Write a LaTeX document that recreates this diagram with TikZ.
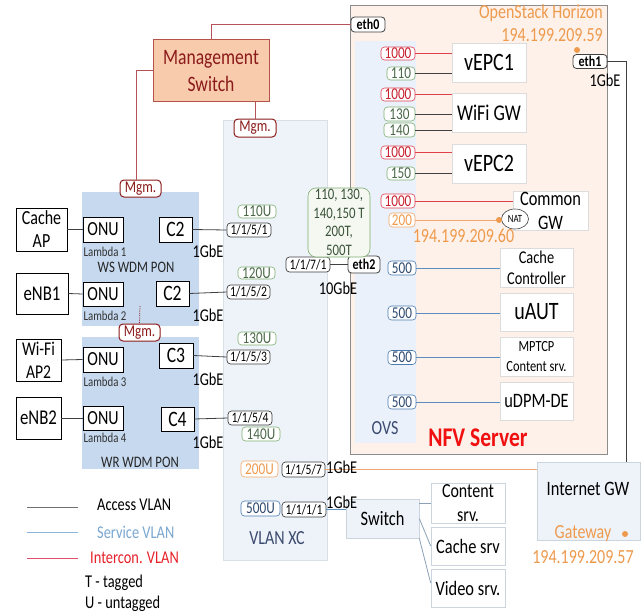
\documentclass[tikz,border=0pt]{standalone}
\usepackage{fontspec}
\setmainfont[FakeStretch=0.8]{Carlito}
\usetikzlibrary{shapes.geometric}
\definecolor{mred}{HTML}{8B1A1A}
\definecolor{mgfill}{HTML}{F8CBAD}
\definecolor{mgbord}{HTML}{B5524A}
\definecolor{mgline}{HTML}{B5525A}
\definecolor{nfvf}{HTML}{FDF1EA}
\definecolor{nfvb}{HTML}{8C8C8C}
\definecolor{ovsf}{HTML}{EAF1FA}
\definecolor{vxcf}{HTML}{EEF3F9}
\definecolor{vxcb}{HTML}{D8DFE8}
\definecolor{ponf}{HTML}{C6D9EF}
\definecolor{portc}{HTML}{404040}
\definecolor{greenb}{HTML}{7FAE72}
\definecolor{greent}{HTML}{4A6848}
\definecolor{redb}{HTML}{E0404E}
\definecolor{redt}{HTML}{C8202E}
\definecolor{orangeb}{HTML}{F2A868}
\definecolor{oranget}{HTML}{EE9A4D}
\definecolor{blueb}{HTML}{4A7BB0}
\definecolor{bluet}{HTML}{2E4A70}
\definecolor{accc}{HTML}{404040}
\definecolor{srvc}{HTML}{5B8DC0}
\definecolor{icnc}{HTML}{E0404A}
\definecolor{orline}{HTML}{F0A870}
\definecolor{vnfb}{HTML}{DCDCDC}
\definecolor{navy}{HTML}{3B4A6E}
\definecolor{legblue}{HTML}{7BA7D0}
\definecolor{legred}{HTML}{E8202A}
\definecolor{leggrey}{HTML}{707070}
\definecolor{legbl}{HTML}{8AB4DC}
\definecolor{legrl}{HTML}{E0506A}
\definecolor{nfvred}{HTML}{F01010}
\definecolor{swline}{HTML}{8CA0B8}
\definecolor{gwf}{HTML}{EEF3FA}
\definecolor{gwb}{HTML}{CCD4DE}
\definecolor{tagf}{HTML}{F4F8F0}
\newcommand\fz[2]{\fontsize{#1}{#2}\selectfont}
\tikzset{
  box/.style={draw=black, line width=0.7pt, fill=white, inner sep=0pt, align=center},
  portb/.style={draw=portc, line width=0.7pt, rounded corners=3.5pt, fill=white, inner sep=0pt, font=\fz{14.5}{15}},
  vg/.style={draw=greenb, line width=0.6pt, rounded corners=3.5pt, fill=white, inner sep=0pt, text=greent, font=\fz{16.5}{17}},
  vr/.style={vg, draw=redb, text=redt},
  vo/.style={vg, draw=orangeb, text=oranget},
  vb/.style={vg, draw=blueb, text=bluet},
  mgm/.style={draw=mred, line width=1pt, rounded corners=4pt, fill=white, text=mred, font=\fz{16.5}{17}, inner sep=0pt},
  vnf/.style={draw=vnfb, line width=0.6pt, fill=white, inner sep=0pt, align=center},
  lbl/.style={inner sep=0pt},
  eth/.style={draw=portc, line width=0.8pt, rounded corners=3.5pt, fill=white, inner sep=0pt, font=\bfseries\fz{15}{15}},
  acc/.style={draw=accc, line width=0.8pt},
  srv/.style={draw=srvc, line width=0.8pt},
  icn/.style={draw=icnc, line width=0.8pt},
  mg/.style={draw=mgline, line width=1pt},
  orl/.style={draw=orline, line width=0.8pt},
  swl/.style={draw=swline, line width=0.8pt},
  odot/.style={circle, fill=oranget, inner sep=0pt, minimum size=6pt},
  lgbox/.style={draw=gwb, line width=0.6pt, fill=gwf, inner sep=0pt, align=center},
  sbox/.style={draw=gwb, line width=0.6pt, fill=white, inner sep=0pt, align=center}
}
\begin{document}
\begin{tikzpicture}[x=1pt,y=-1pt]
\useasboundingbox[fill=white] (0,0) rectangle (644,615);

% ---- regions
\node[draw=nfvb, fill=nfvf, line width=0.8pt, minimum width=257pt, minimum height=449pt, inner sep=0pt] (nfv) at (478.5,229.5) {};
\node[fill=ovsf, minimum width=61pt, minimum height=402pt, inner sep=0pt] (ovs) at (385.5,242) {};
\node[draw=vxcb, fill=vxcf, line width=0.6pt, minimum width=104pt, minimum height=440pt, inner sep=0pt] (vxc) at (275,340) {};
\node[fill=ponf, minimum width=117pt, minimum height=134pt, inner sep=0pt] (ws) at (140.5,259) {};
\node[fill=ponf, minimum width=117pt, minimum height=132pt, inner sep=0pt] (wr) at (140.5,403) {};

% ---- region labels
\node[lbl, text=nfvred, font=\bfseries\fz{27}{27}] (nfvlbl) at (478,438) {NFV Server};
\node[lbl, text=navy, font=\fz{20}{20}] (ovslbl) at (385,428) {OVS};
\node[lbl, text=navy, font=\fz{20}{20}] (vxclbl) at (277,538) {VLAN XC};
\node[lbl, text=black!85, font=\fz{16}{16}] (wslbl) at (136,267) {WS WDM PON};
\node[lbl, text=black!85, font=\fz{16}{16}] (wrlbl) at (140,462) {WR WDM PON};
\node[lbl, text=oranget, font=\fz{20}{20}, anchor=east] (oshz) at (603,13) {OpenStack Horizon};
\node[lbl, text=oranget, font=\fz{20}{20}, anchor=east] (osip) at (603,35) {194.199.209.59};
\node[lbl, text=oranget, font=\fz{20}{20}] (natip) at (463.5,236) {194.199.209.60};

% ---- management
\node[draw=mgbord, fill=mgfill, line width=1pt, minimum width=116pt, minimum height=62pt, inner sep=0pt, align=center, text=mred, font=\fz{22}{27}] (mgmt) at (211,71) {Management\\Switch};
\node[mgm, minimum width=41pt, minimum height=17pt] (mgmL) at (140.5,188.5) {Mgm.};
\node[mgm, minimum width=42pt, minimum height=18pt] (mgmX) at (255,128) {Mgm.};
\node[mgm, minimum width=41pt, minimum height=17pt] (mgmM) at (139.5,332.5) {Mgm.};
\coordinate (dtop) at (140,306);

% ---- eth ports
\node[eth, minimum width=34pt, minimum height=15pt] (eth0) at (368,24.5) {eth0};
\node[eth, minimum width=34pt, minimum height=14pt] (eth1) at (590,61.5) {eth1};
\node[eth, minimum width=32pt, minimum height=17pt] (eth2) at (364,264.5) {eth2};
\node[odot] (d1) at (577,50) {};
\node[lbl, font=\fz{18}{18}] (g1e) at (605,80) {1GbE};

% ---- access devices
\node[box, minimum width=51pt, minimum height=43pt, font=\fz{20}{23}] (cap) at (41.5,229.5) {Cache\\AP};
\node[box, minimum width=52pt, minimum height=41pt, font=\fz{21}{23}] (enb1) at (42,293.5) {eNB1};
\node[box, minimum width=45pt, minimum height=42pt, font=\fz{19.5}{23}] (wap) at (38.5,360) {Wi-Fi\\AP2};
\node[box, minimum width=45pt, minimum height=42pt, font=\fz{21}{23}] (enb2) at (38.5,418) {eNB2};

\node[box, minimum width=40pt, minimum height=25pt, font=\fz{20}{20}] (onu1) at (103,229.5) {ONU};
\node[box, minimum width=40pt, minimum height=24pt, font=\fz{20}{20}] (onu2) at (103,294) {ONU};
\node[box, minimum width=40pt, minimum height=25pt, font=\fz{20}{20}] (onu3) at (103,359.5) {ONU};
\node[box, minimum width=40pt, minimum height=24pt, font=\fz{20}{20}] (onu4) at (103,418) {ONU};
\node[lbl, font=\fz{13.5}{14}, text=black!80] (lam1) at (105,252) {Lambda 1};
\node[lbl, font=\fz{13.5}{14}, text=black!80] (lam2) at (105,316) {Lambda 2};
\node[lbl, font=\fz{13.5}{14}, text=black!80] (lam3) at (105,382) {Lambda 3};
\node[lbl, font=\fz{13.5}{14}, text=black!80] (lam4) at (105,438) {Lambda 4};

\node[box, minimum width=33pt, minimum height=25pt, font=\fz{22}{22}] (c2a) at (175.5,229.5) {C2};
\node[box, minimum width=33pt, minimum height=25pt, font=\fz{22}{22}] (c2b) at (172.5,293.5) {C2};
\node[box, minimum width=34pt, minimum height=25pt, font=\fz{22}{22}] (c3) at (176,355.5) {C3};
\node[box, minimum width=33pt, minimum height=24pt, font=\fz{22}{22}] (c4) at (177.5,419) {C4};
\node[lbl, font=\fz{18}{18}] (ge1) at (208,251) {1GbE};
\node[lbl, font=\fz{18}{18}] (ge2) at (208,315) {1GbE};
\node[lbl, font=\fz{18}{18}] (ge3) at (208,379) {1GbE};
\node[lbl, font=\fz{18}{18}] (ge4) at (208,442) {1GbE};

% ---- VLAN XC ports
\node[portb, minimum width=44pt, minimum height=14pt] (p1) at (249,230) {1/1/5/1};
\node[portb, minimum width=43pt, minimum height=14pt] (p2) at (248.5,292) {1/1/5/2};
\node[portb, minimum width=43pt, minimum height=14pt] (p3) at (248.5,357) {1/1/5/3};
\node[portb, minimum width=44pt, minimum height=14pt] (p4) at (250,418) {1/1/5/4};
\node[portb, minimum width=43pt, minimum height=15pt] (p7) at (303.5,469.5) {1/1/5/7};
\node[portb, minimum width=44pt, minimum height=15pt] (p11) at (304,509.5) {1/1/1/1};
\node[portb, minimum width=44pt, minimum height=15pt] (p71) at (308,264.5) {1/1/7/1};

\node[vg, minimum width=38pt, minimum height=13pt] (v110) at (257,211.5) {110U};
\node[vg, minimum width=37pt, minimum height=12pt] (v120) at (256.5,273) {120U};
\node[vg, minimum width=38pt, minimum height=13pt] (v130) at (257,338.5) {130U};
\node[vg, minimum width=38pt, minimum height=14pt] (v140) at (261,434) {140U};
\node[vo, minimum width=37pt, minimum height=16pt] (v200) at (259.5,469) {200U};
\node[vb, minimum width=39pt, minimum height=15pt] (v500) at (260.5,508.5) {500U};

\node[draw=greenb, line width=0.6pt, rounded corners=8pt, fill=tagf, inner sep=0pt, minimum width=62pt, minimum height=69pt, align=center, text=greent!80!black, font=\fz{16}{18.5}] (tag) at (339,222.5) {110, 130,\\140,150 T\\200T,\\500T};
\node[lbl, font=\fz{18}{18}] (ge10) at (338,288) {10GbE};

% ---- OVS ports
\node[vr, minimum width=34pt, minimum height=13pt] (r1) at (398,53.5) {1000};
\node[vg, minimum width=28pt, minimum height=13pt] (g110) at (401,73.5) {110};
\node[vr, minimum width=34pt, minimum height=13pt] (r2) at (398,94.5) {1000};
\node[vg, minimum width=31pt, minimum height=14pt] (g130) at (399.5,114) {130};
\node[vg, minimum width=31pt, minimum height=14pt] (g140) at (399.5,130) {140};
\node[vr, minimum width=34pt, minimum height=13pt] (r3) at (398,152.5) {1000};
\node[vg, minimum width=28pt, minimum height=13pt] (g150) at (401,173.5) {150};
\node[vr, minimum width=34pt, minimum height=14pt] (r4) at (398,201) {1000};
\node[vo, minimum width=26pt, minimum height=14pt] (o200) at (402,220) {200};
\node[vb, minimum width=28pt, minimum height=14pt] (b1) at (402,268) {500};
\node[vb, minimum width=28pt, minimum height=14pt] (b2) at (402,313) {500};
\node[vb, minimum width=28pt, minimum height=14pt] (b3) at (402,357.5) {500};
\node[vb, minimum width=28pt, minimum height=14pt] (b4) at (402,402) {500};

% ---- VNFs
\node[vnf, minimum width=74pt, minimum height=39pt, font=\fz{25}{25}] (vepc1) at (489,62.5) {vEPC1};
\node[vnf, minimum width=74pt, minimum height=39pt, font=\fz{22.5}{22.5}] (wifigw) at (489,112.5) {WiFi GW};
\node[vnf, minimum width=74pt, minimum height=39pt, font=\fz{25}{25}] (vepc2) at (489,163.5) {vEPC2};
\node[vnf, minimum width=75pt, minimum height=39pt, font=\fz{20.5}{24}] (cgw) at (550.5,210.5) {Common\\GW};
\node[ellipse, draw=portc, line width=0.6pt, fill=white, inner sep=0pt, minimum width=27pt, minimum height=20pt, font=\fz{11}{11}] (nat) at (515,219) {NAT};
\node[odot] (d2) at (499,220) {};
\node[vnf, minimum width=73pt, minimum height=39pt, font=\fz{18}{21}] (cctl) at (536.5,267.5) {Cache\\Controller};
\node[vnf, minimum width=73pt, minimum height=38pt, font=\fz{25}{25}] (uaut) at (536.5,312) {uAUT};
\node[vnf, minimum width=73pt, minimum height=39pt, font=\fz{15.5}{20}] (mptcp) at (536.5,356.5) {MPTCP\\Content srv.};
\node[vnf, minimum width=73pt, minimum height=38pt, font=\fz{20.5}{20.5}] (udpm) at (536.5,401) {uDPM-DE};

% ---- Internet GW and servers
\node[lgbox, minimum width=103pt, minimum height=78pt] (igw) at (588.5,501) {};
\node[lbl, font=\fz{20.5}{20.5}] (igwlbl) at (588,489) {Internet GW};
\node[lbl, font=\fz{20}{20}, text=oranget] (gwlbl) at (583,534) {Gateway};
\node[odot] (d3) at (625,534) {};
\node[lbl, font=\fz{20}{20}, text=oranget] (gwip) at (583,557) {194.199.209.57};

\node[lgbox, minimum width=73pt, minimum height=39pt, font=\fz{20.5}{20.5}] (sw) at (382.5,518.5) {Switch};
\node[sbox, minimum width=74pt, minimum height=40pt, font=\fz{20}{24}] (csrv) at (468,503) {Content\\srv.};
\node[sbox, minimum width=74pt, minimum height=38pt, font=\fz{20.5}{20.5}] (chsrv) at (468,546) {Cache srv};
\node[sbox, minimum width=74pt, minimum height=38pt, font=\fz{20.5}{20.5}] (vsrv) at (468,588) {Video srv.};

% ---- connectors: management
\draw[mg] (mgmt.north) |- (eth0.west);
\draw[mg] (mgmt.west) -| ([xshift=-4pt]mgmL.north);
\draw[mg] (mgmt.south -| mgmX.north) -- (mgmX.north);
\draw[draw=mred, line width=0.8pt, densely dotted] (dtop) -- (mgmM.north);

% ---- access links
\draw[acc] (cap.east) -- (onu1.west);
\draw[acc] (enb1.east) -- (onu2.west);
\draw[acc] (wap.east) -- (onu3.west);
\draw[acc] (enb2.east) -- (onu4.west);
\draw[acc] (c2a.east) -- (p1.west);
\draw[acc] (c2b.east) -- (p2.west);
\draw[acc] (c3.east) -- (p3.west);
\draw[acc] (c4.east) -- (p4.west);
\draw[acc] (p71.east) -- (eth2.west);

% ---- OVS to VNFs
\draw[icn] (r1.east) -- (r1.east -| vepc1.west);
\draw[acc] (g110.east) -- (g110.east -| vepc1.west);
\draw[icn] (r2.east) -- (r2.east -| wifigw.west);
\draw[acc] (g130.east) -- (g130.east -| wifigw.west);
\draw[acc] (g140.east) -- (g140.east -| wifigw.west);
\draw[icn] (r3.east) -- (r3.east -| vepc2.west);
\draw[acc] (g150.east) -- (g150.east -| vepc2.west);
\draw[icn] (r4.east) -- (r4.east -| cgw.west);
\draw[orl] (o200.east) -- (d2);
\draw[srv] (b1.east) -- (b1.east -| cctl.west);
\draw[srv] (b2.east) -- (b2.east -| uaut.west);
\draw[srv] (b3.east) -- (b3.east -| mptcp.west);
\draw[srv] (b4.east) -- (b4.east -| udpm.west);

% ---- uplinks
\draw[draw=accc, line width=0.8pt] (eth1.east) -| ([xshift=37.5pt]igw.north);
\draw[orl] (p7.east) -- (p7.east -| igw.west);
\draw[srv] (p11.east) -- (p11.east -| sw.west);
\draw[swl] (csrv.west -| sw.east) -- (csrv.west);
\draw[swl] (sw.east) -- (chsrv.west);
\draw[swl] (sw.south east) -- ([yshift=5pt]vsrv.west);
\node[lbl, font=\fz{18}{18}, anchor=west] (ge7) at (326,467) {1GbE};
\node[lbl, font=\fz{18}{18}, anchor=west] (ge11) at (326,502) {1GbE};

% ---- legend
\coordinate (la1) at (27,507); \coordinate (la2) at (78,507);
\coordinate (lb1) at (27,532); \coordinate (lb2) at (78,532);
\coordinate (lc1) at (27,558); \coordinate (lc2) at (78,558);
\draw[draw=leggrey, line width=0.9pt] (la1) -- (la2);
\draw[draw=legbl, line width=0.9pt] (lb1) -- (lb2);
\draw[draw=legrl, line width=0.9pt] (lc1) -- (lc2);
\node[lbl, anchor=west, font=\fz{18}{18}] (lta) at (97,505) {Access VLAN};
\node[lbl, anchor=west, font=\fz{18}{18}, text=legblue] (ltb) at (97,532) {Service VLAN};
\node[lbl, anchor=west, font=\fz{18}{18}, text=legred] (ltc) at (90,558) {Intercon. VLAN};
\node[lbl, anchor=west, font=\fz{18}{18}] (ltt) at (85,583) {T - tagged};
\node[lbl, anchor=west, font=\fz{18}{18}] (ltu) at (85,604) {U - untagged};
\end{tikzpicture}
\end{document}
